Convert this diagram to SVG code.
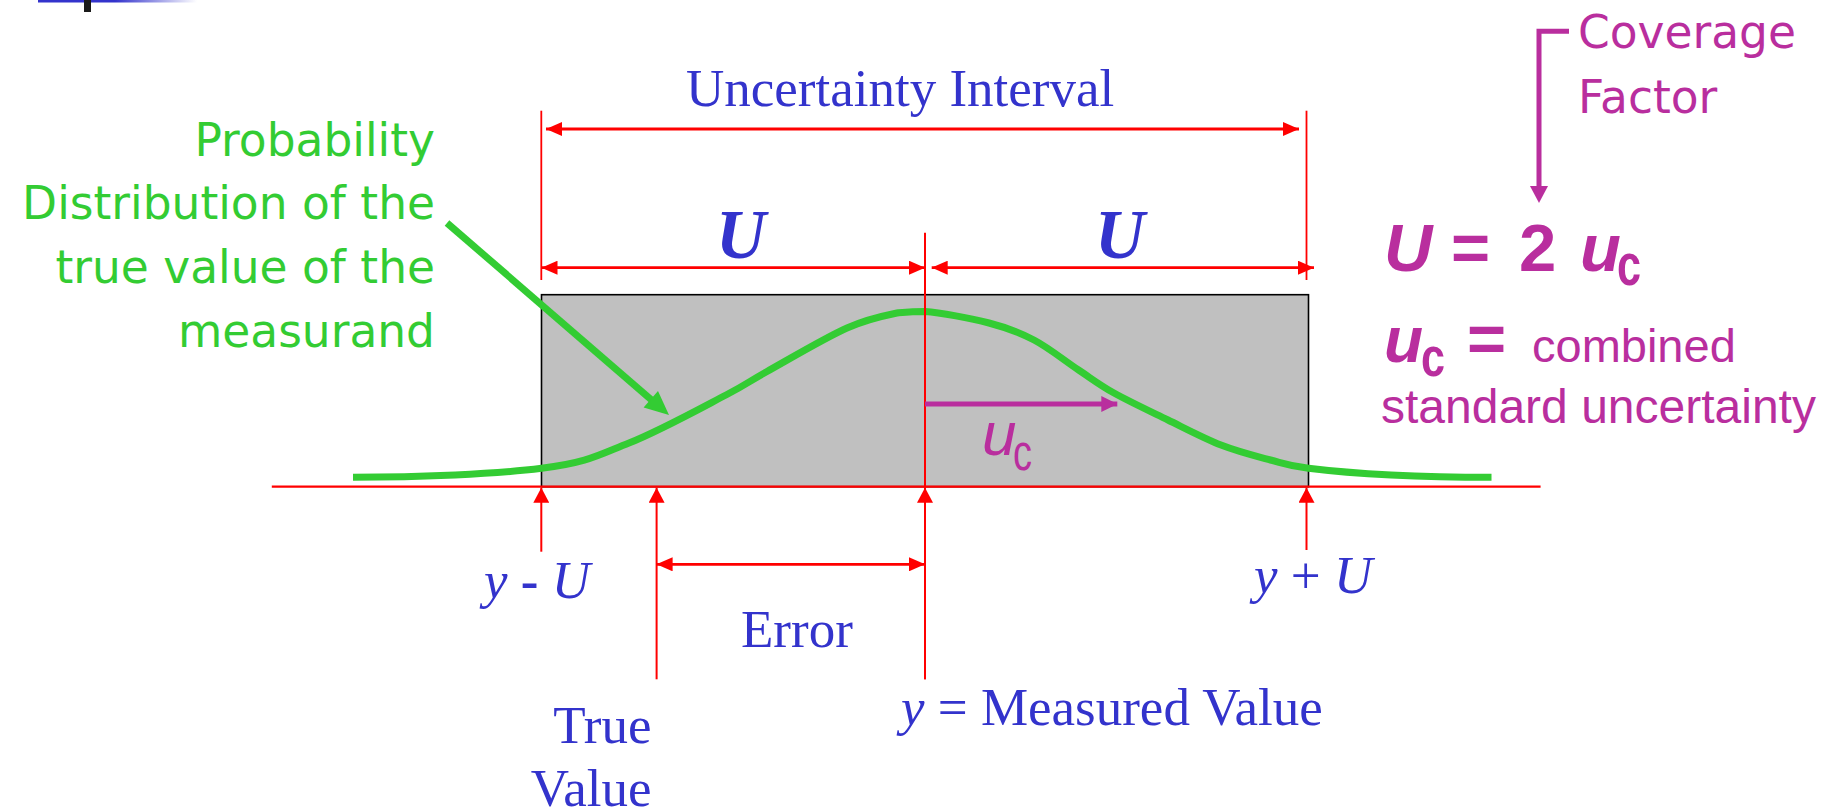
<svg xmlns="http://www.w3.org/2000/svg" width="1833" height="810" viewBox="0 0 1833 810">
<style>
.blue{fill:#3333CC;font-family:"Liberation Serif","Times New Roman",serif;font-size:53px}
.bigU{font-size:69px;font-weight:bold;font-style:italic}
.green{fill:#33CC33;font-family:"DejaVu Sans",sans-serif;font-size:45.5px}
.purp{fill:#B92E9E;font-family:"DejaVu Sans",sans-serif;font-size:45.5px}
.purp2{fill:#B92E9E;font-family:"Liberation Sans",Arial,sans-serif}
.red{stroke:#FF0000;fill:none}
</style>
<defs>
<linearGradient id="fade" x1="0" y1="0" x2="1" y2="0">
<stop offset="0" stop-color="#3333CC"/>
<stop offset="1" stop-color="#3333CC" stop-opacity="0"/>
</linearGradient>
<marker id="ra" viewBox="0 0 16 14" refX="16" refY="7" markerWidth="16" markerHeight="14" markerUnits="userSpaceOnUse" orient="auto-start-reverse">
<path d="M0,0 L16,7 L0,14 Z" fill="#FF0000"/>
</marker>
<marker id="rup" viewBox="0 0 15 16" refX="15" refY="8" markerWidth="15" markerHeight="16" markerUnits="userSpaceOnUse" orient="auto">
<path d="M0,0 L15,8 L0,16 Z" fill="#FF0000"/>
</marker>
<marker id="pa" viewBox="0 0 16 16" refX="16" refY="8" markerWidth="16" markerHeight="16" markerUnits="userSpaceOnUse" orient="auto">
<path d="M0,0 L16,8 L0,16 Z" fill="#B92E9E"/>
</marker>
</defs>
<rect width="1833" height="810" fill="#FFFFFF"/>

<g id="header-decoration">
<rect x="38" y="0" width="77" height="2.5" fill="#3333CC"/>
<rect x="115" y="0" width="82" height="2.5" fill="url(#fade)"/>
<rect x="84" y="0" width="7" height="12" fill="#1A1A1A"/>
</g>

<g id="uncertainty-box">
<rect x="541.5" y="294.7" width="767" height="192" fill="#C0C0C0" stroke="#000000" stroke-width="1.6"/>
</g>

<g id="distribution-curve">
<path d="M353,477.3 C420,477.3 495.6,474 541.6,468.3 C587.6,462.6 598.3,455.2 629,443 C659.7,430.8 703.1,406.9 726,395 C748.9,383.1 746.4,382.9 766.6,371.7 C786.8,360.5 825,337.8 847,328 C869,318.2 885.6,315.4 898.6,312.7 C910,311.8 915,311.5 925,311.5 C940.1,312.5 970.8,318.3 989,323 C1007.2,327.7 1019.1,332.2 1034,340 C1048.9,347.8 1065.3,361.2 1078.6,370 C1091.9,378.8 1099.1,384.7 1114,393 C1128.9,401.3 1150.2,411.3 1168,420 C1185.8,428.7 1203.9,438.3 1221,445 C1238.1,451.7 1255.9,456.1 1270.5,460 C1285.1,463.9 1288.4,465.8 1308.5,468.3 C1328.6,470.8 1360.5,473.5 1391,475 C1421.5,476.5 1460,477.3 1491.5,477.3" fill="none" stroke="#33CC33" stroke-width="7"/>
</g>

<g id="connectors">
<line class="red" x1="271.8" y1="486.7" x2="1540.6" y2="486.7" stroke-width="2.2"/>
<line class="red" x1="541.3" y1="110.7" x2="541.3" y2="280" stroke-width="1.8"/>
<line class="red" x1="1306.5" y1="110.7" x2="1306.5" y2="280" stroke-width="1.8"/>
<line class="red" x1="925" y1="232.7" x2="925" y2="679.3" stroke-width="2"/>
<line class="red" x1="546" y1="129" x2="1299" y2="129" stroke-width="2.8" marker-start="url(#ra)" marker-end="url(#ra)"/>
<line class="red" x1="541.5" y1="267.7" x2="925" y2="267.7" stroke-width="2.8" marker-start="url(#ra)" marker-end="url(#ra)"/>
<line class="red" x1="931.7" y1="267.7" x2="1314" y2="267.7" stroke-width="2.8" marker-start="url(#ra)" marker-end="url(#ra)"/>
<line class="red" x1="656.6" y1="564.3" x2="925" y2="564.3" stroke-width="2.8" marker-start="url(#ra)" marker-end="url(#ra)"/>
<line class="red" x1="541.3" y1="551.7" x2="541.3" y2="487.7" stroke-width="2" marker-end="url(#rup)"/>
<line class="red" x1="656.6" y1="679.3" x2="656.6" y2="487.7" stroke-width="2" marker-end="url(#rup)"/>
<line class="red" x1="925" y1="679.3" x2="925" y2="487.7" stroke-width="2" marker-end="url(#rup)"/>
<line class="red" x1="1306.5" y1="550" x2="1306.5" y2="487.7" stroke-width="2" marker-end="url(#rup)"/>
<line x1="925" y1="404" x2="1117.3" y2="404" stroke="#B92E9E" stroke-width="5" marker-end="url(#pa)"/>
<path d="M1569,31.3 H1539 V188" fill="none" stroke="#B92E9E" stroke-width="5"/>
<path d="M1530,186 L1548,186 L1539,203 Z" fill="#B92E9E"/>
<line x1="447" y1="223" x2="652" y2="400.3" stroke="#33CC33" stroke-width="7"/>
<path d="M669,415 L643.6,407.6 L658,391 Z" fill="#33CC33"/>
</g>

<g id="label-uncertainty-interval">
<text class="blue" x="686" y="106">Uncertainty Interval</text>
</g>
<g id="label-U-left">
<text class="blue bigU" x="741" y="258" text-anchor="middle">U</text>
</g>
<g id="label-U-right">
<text class="blue bigU" x="1120" y="258" text-anchor="middle">U</text>
</g>
<g id="label-probability">
<text class="green" text-anchor="end"><tspan x="435" y="156">Probability</tspan><tspan x="435" y="219.3">Distribution of the</tspan><tspan x="435" y="282.7">true value of the</tspan><tspan x="435" y="346.7">measurand</tspan></text>
</g>
<g id="label-uc-arrow">
<text class="purp2" font-size="62"><tspan x="982" y="455" font-style="italic">u</tspan><tspan x="1013" y="470" font-size="52" textLength="19" lengthAdjust="spacingAndGlyphs">c</tspan></text>
</g>
<g id="label-y-minus-U">
<text class="blue" x="484" y="598"><tspan font-style="italic">y</tspan> <tspan font-weight="bold">-</tspan> <tspan font-style="italic">U</tspan></text>
</g>
<g id="label-y-plus-U">
<text class="blue" x="1254" y="593.3"><tspan font-style="italic">y</tspan> + <tspan font-style="italic">U</tspan></text>
</g>
<g id="label-error">
<text class="blue" x="741" y="646.7">Error</text>
</g>
<g id="label-true-value">
<text class="blue" text-anchor="end"><tspan x="651.5" y="743.3">True</tspan><tspan x="651.5" y="806">Value</tspan></text>
</g>
<g id="label-measured-value">
<text class="blue" x="901" y="725"><tspan font-style="italic">y</tspan> = Measured Value</text>
</g>
<g id="label-coverage-factor">
<text class="purp"><tspan x="1578" y="48.3">Coverage</tspan><tspan x="1578" y="113.3">Factor</tspan></text>
</g>
<g id="formula-U">
<text class="purp2" font-size="67" font-weight="bold"><tspan x="1384" y="270.7" font-style="italic">U</tspan><tspan x="1451" y="270.7">=</tspan><tspan x="1519" y="270.7">2</tspan><tspan x="1580" y="270.7" font-style="italic">u</tspan><tspan x="1617" y="285" font-size="59" textLength="24" lengthAdjust="spacingAndGlyphs">c</tspan></text>
</g>
<g id="formula-uc">
<text class="purp2" font-size="64" font-weight="bold"><tspan x="1384" y="361.7" font-style="italic">u</tspan><tspan x="1421" y="376" font-size="56" textLength="24" lengthAdjust="spacingAndGlyphs">c</tspan><tspan x="1467" y="361.7" font-size="67">=</tspan><tspan x="1532" y="361.7" font-size="47" font-weight="normal">combined</tspan></text>
<text class="purp2" x="1381" y="423" font-size="48">standard uncertainty</text>
</g>
</svg>
